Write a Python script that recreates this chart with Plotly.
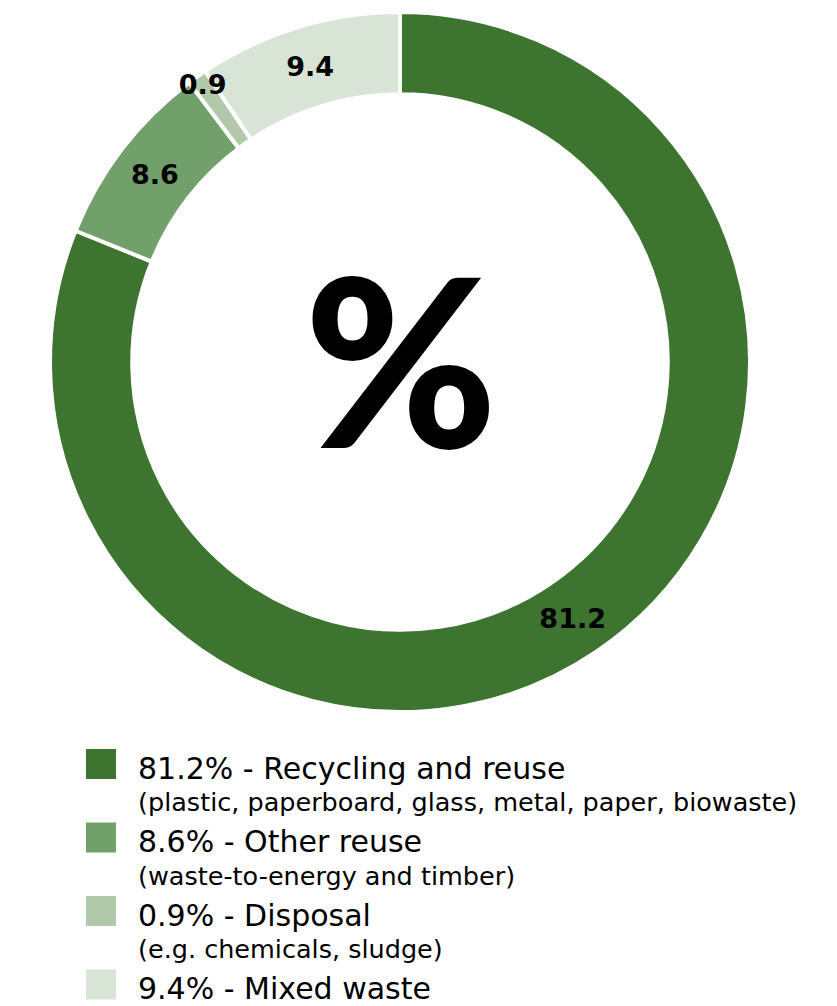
import plotly.graph_objects as go

# Waste breakdown (%)
categories = ["Recycling and reuse", "Other reuse", "Disposal", "Mixed waste"]
details = [
    "(plastic, paperboard, glass, metal, paper, biowaste)",
    "(waste-to-energy and timber)",
    "(e.g. chemicals, sludge)",
    "",
]
shares = [81.2, 8.6, 0.9, 9.4]
colors = ["#3d7430", "#72a06b", "#b1c9aa", "#d8e4d6"]

W, H = 837, 1006
FONT = "DejaVu Sans, sans-serif"
PIE_DOMAIN = dict(x=[50 / W, 750 / W], y=[1 - 712 / H, 1 - 12 / H])

fig = go.Figure()
# Ring slices
fig.add_trace(go.Pie(
    labels=categories,
    values=shares,
    sort=False,
    direction="clockwise",
    rotation=0,
    hole=0.765,
    marker=dict(colors=colors, line=dict(color="white", width=4)),
    textinfo="none",
    hoverinfo="label+percent",
    showlegend=False,
    domain=PIE_DOMAIN,
))
# Value labels on a transparent copy so no slice covers them
fig.add_trace(go.Pie(
    labels=categories,
    values=shares,
    sort=False,
    direction="clockwise",
    rotation=0,
    hole=0.765,
    marker=dict(colors=["rgba(0,0,0,0)"] * len(shares), line=dict(width=0)),
    texttemplate="%{value}",
    textposition="inside",
    insidetextorientation="horizontal",
    textfont=dict(family="DejaVu Sans, sans-serif", size=27, color="black", weight="bold"),
    hoverinfo="skip",
    showlegend=False,
    domain=PIE_DOMAIN,
))

# Big percent sign in the hole
fig.add_annotation(
    x=401 / W, y=1 - 357 / H, xref="paper", yref="paper",
    text="%", showarrow=False, xanchor="center", yanchor="middle",
    font=dict(family="Lato, sans-serif", size=234, color="black", weight=900),
)

# Custom legend: large swatches with a headline and a detail line
row_top = 749
row_step = 73.5
for i, (cat, det, val, col) in enumerate(zip(categories, details, shares, colors)):
    top = row_top + i * row_step
    fig.add_shape(
        type="rect", xref="paper", yref="paper",
        x0=86 / W, x1=116 / W, y0=1 - top / H, y1=1 - (top + 30) / H,
        fillcolor=col, line=dict(width=0),
    )
    fig.add_annotation(
        x=136 / W, y=1 - (top + 19) / H, xref="paper", yref="paper",
        text=f"{val}% - {cat}", showarrow=False, xanchor="left", yanchor="middle",
        font=dict(family=FONT, size=30, color="black"),
    )
    if det:
        fig.add_annotation(
            x=136 / W, y=1 - (top + 53) / H, xref="paper", yref="paper",
            text=det, showarrow=False, xanchor="left", yanchor="middle",
            font=dict(family=FONT, size=25.5, color="black"),
        )

fig.update_layout(
    width=W, height=H,
    margin=dict(l=0, r=0, t=0, b=0),
    paper_bgcolor="white",
    plot_bgcolor="white",
    uniformtext=dict(minsize=27, mode="show"),
)

fig.write_html("out.html")
